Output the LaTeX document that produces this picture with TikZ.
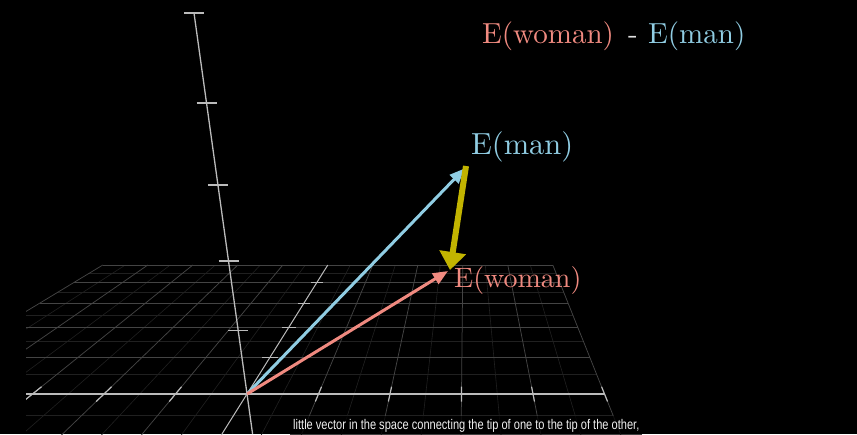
\documentclass[tikz,border=0pt]{standalone}
\usepackage{fontspec}
\usepackage{graphicx}
\newfontfamily\capfont{Liberation Sans}
\newfontfamily\cmfont[Extension=.otf]{lmroman10-regular}
\usetikzlibrary{arrows.meta}
\definecolor{manblue}{HTML}{90CDE3}
\definecolor{womanred}{HTML}{F08A80}
\definecolor{diffyellow}{HTML}{C2B400}
\definecolor{axisgrey}{HTML}{BBBBBB}
\definecolor{gridmain}{HTML}{444444}
\definecolor{gridfaint}{HTML}{202020}
\makeatletter
\tikzset{flr/.cd,u/.store in=\flr@u,v/.store in=\flr@v,u=0,v=0}
\tikzdeclarecoordinatesystem{flr}{%
  \tikzset{flr/.cd,#1}%
  \pgfmathsetmacro\flrs{1/(1+0.11775*\flr@v)}%
  \pgfmathsetmacro\flrx{465+(71.5*\flr@u-218)*\flrs}%
  \pgfmathsetmacro\flry{-(46+348*\flrs)}%
  \pgfpoint{\flrx pt}{\flry pt}}
\makeatother
\begin{document}
\begin{tikzpicture}[x=1pt,y=-1pt,
  gridmainline/.style={draw=gridmain,line width=0.75pt},
  gridfaintline/.style={draw=gridfaint,line width=0.6pt},
  axisline/.style={draw=axisgrey,line width=1.4pt},
  thinaxis/.style={draw=axisgrey,line width=1pt},
  tickline/.style={draw=axisgrey,line width=1.2pt},
  vec/.style={line width=3pt,-{Triangle[length=15pt,width=12pt]}},
  lbl/.style={inner sep=0pt,anchor=base west},
]
\fill[black] (0,0) rectangle (857,434);
\useasboundingbox (0,0) rectangle (857,434);
% floor grid
\begin{scope}
\clip (26,0) rectangle (857,434);
\foreach \u in {-4.5,-3.5,-2.5,-1.5,-0.5,0.5,1.5,2.5,3.5,4.5}
  \draw[gridfaintline] (flr cs:u=\u,v=-1.3) -- (flr cs:u=\u,v=5);
\foreach \v in {-0.5,0.5,1.5,2.5,3.5,4.5}
  \draw[gridfaintline] (flr cs:u=-5,v=\v) -- (flr cs:u=5,v=\v);
\foreach \u in {-5,-4,-3,-2,-1,1,2,3,4,5}
  \draw[gridmainline] (flr cs:u=\u,v=-1.3) -- (flr cs:u=\u,v=5);
\foreach \v in {1,2,3,4,5}
  \draw[gridmainline] (flr cs:u=-5,v=\v) -- (flr cs:u=5,v=\v);
% x axis
\coordinate (xl) at (flr cs:u=-5,v=0);
\coordinate (xr) at (flr cs:u=5,v=0);
\draw[axisline] (xl) -- (xr);
\foreach \u in {-3,-2,-1,1,2,3,4,5}
  \draw[tickline] (flr cs:u=\u,v=-0.18) -- (flr cs:u=\u,v=0.18);
% y axis (depth)
\coordinate (yb) at (flr cs:u=0,v=-1.3);
\coordinate (yt) at (flr cs:u=0,v=5);
\draw[thinaxis] (yb) -- (yt);
\foreach \v in {1,2,3,4}
  \draw[tickline] (flr cs:u=-0.12,v=\v) -- (flr cs:u=0.12,v=\v);
\end{scope}
% z axis
\coordinate (zbot) at (252.6,434);
\coordinate (ztop) at (194,13);
\draw[thinaxis,line width=1.3pt] (zbot) -- (ztop);
\foreach \yy/\xx in {330.7/238.2,261/228.5,185/217.9,103/206.5,13/194}
  \draw[tickline] (\xx-10,\yy) -- (\xx+10,\yy);
% vectors
\coordinate (O) at (247,394);
\coordinate (man) at (464.5,168.5);
\coordinate (woman) at (448,271);
\coordinate (dtail) at (466,166);
\coordinate (dtip) at (450,270);
\draw[vec,manblue] (O) -- (man);
\draw[vec,womanred] (O) -- (woman);
\draw[diffyellow,line width=6pt,-{Triangle[length=18pt,width=26pt]}] (dtail) -- (dtip);
% labels
\node[lbl,text=manblue,font=\cmfont\fontsize{30.5}{36}\selectfont] (manlbl) at (471,154) {E(man)};
\node[lbl,text=womanred,font=\cmfont\fontsize{28}{34}\selectfont] (womanlbl) at (454,287) {E(woman)};
\node[lbl,text=womanred,font=\cmfont\fontsize{29}{35}\selectfont] (t1) at (482,43) {E(woman)};
\node[lbl,text=white!88!black,font=\cmfont\fontsize{29}{35}\selectfont] (t2) at (628,43) {-};
\node[lbl,text=manblue,font=\cmfont\fontsize{29}{35}\selectfont] (t3) at (648,43) {E(man)};
% caption
\node[anchor=base west,fill=black,fill opacity=0.75,text opacity=1,text=white!94!black,
      inner xsep=3pt,inner ysep=3pt,font=\capfont\fontsize{14}{16}\selectfont] (cap) at (290,429)
  {\scalebox{0.79}[1]{little vector in the space connecting the tip of one to the tip of the other,}};
\end{tikzpicture}
\end{document}
